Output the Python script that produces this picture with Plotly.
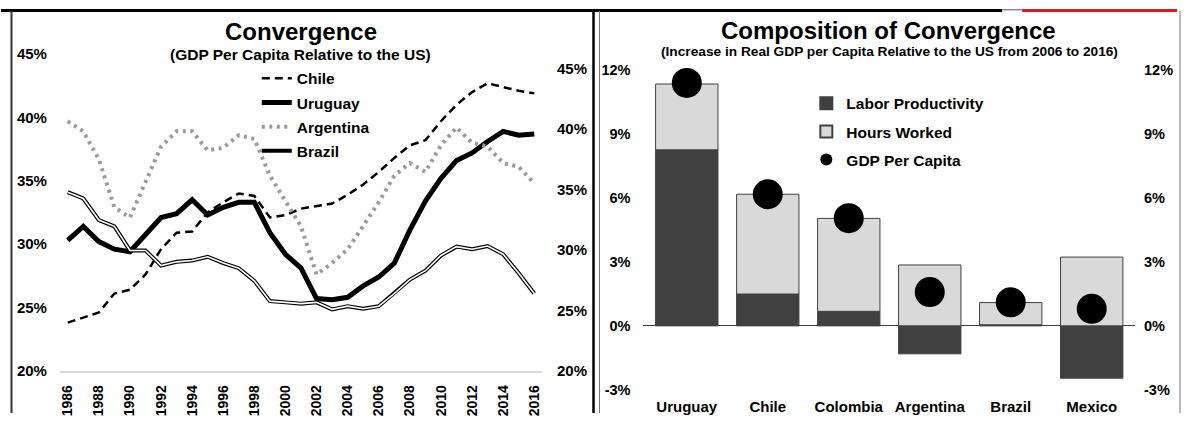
import plotly.graph_objects as go

W, H = 1188, 421

# ---------------- data ----------------
years = list(range(1986, 2017))
chile = [23.8, 24.2, 24.6, 26.1, 26.4, 27.6, 29.6, 30.9, 31.0, 32.5, 33.3, 34.0, 33.8,
         32.1, 32.3, 32.8, 33.0, 33.2, 33.9, 34.7, 35.7, 36.8, 37.8, 38.2, 39.7, 41.0,
         42.0, 42.7, 42.4, 42.1, 41.9]
uruguay = [30.3, 31.4, 30.2, 29.6, 29.4, 30.8, 32.1, 32.4, 33.5, 32.3, 32.9, 33.3, 33.3,
           30.9, 29.2, 28.1, 25.7, 25.6, 25.8, 26.7, 27.4, 28.5, 31.1, 33.4, 35.2, 36.6,
           37.2, 38.1, 38.9, 38.6, 38.7]
argentina = [39.7, 38.9, 36.7, 32.9, 32.1, 34.9, 37.7, 38.9, 38.9, 37.4, 37.6, 38.6, 38.3,
             35.4, 33.4, 31.4, 27.6, 28.5, 29.6, 31.4, 33.3, 35.4, 36.4, 35.7, 37.8, 39.2,
             38.0, 37.7, 36.4, 36.1, 34.8]
brazil = [34.1, 33.6, 31.9, 31.4, 29.5, 29.5, 28.3, 28.6, 28.7, 29.0, 28.5, 28.1, 27.1,
          25.5, 25.4, 25.3, 25.4, 24.85, 25.1, 24.9, 25.1, 26.1, 27.2, 27.9, 29.1, 29.8,
          29.6, 29.85, 29.2, 27.7, 26.1]

countries = ["Uruguay", "Chile", "Colombia", "Argentina", "Brazil", "Mexico"]
labor_productivity = [8.24, 1.49, 0.68, -1.31, 0.05, -2.45]
hours_worked = [3.08, 4.67, 4.35, 2.85, 1.04, 3.22]
gdp_per_capita = [11.37, 6.16, 5.04, 1.58, 1.10, 0.80]

left_ticks = [20, 25, 30, 35, 40, 45]
right_ticks = [-3, 0, 3, 6, 9, 12]

FONT = "Arial, Liberation Sans, sans-serif"
BOLD = dict(family=FONT, color="black", weight="bold")


def px_x(v):
    return v / W


def px_y(v):
    return 1 - v / H


fig = go.Figure()

# ---------------- left chart ----------------
fig.add_trace(go.Scatter(x=years, y=chile, name="Chile", mode="lines",
                         line=dict(color="black", width=2.5, dash="8px,5px"),
                         legend="legend", legendgroup="a"))
fig.add_trace(go.Scatter(x=years, y=uruguay, name="Uruguay", mode="lines",
                         line=dict(color="black", width=5),
                         legend="legend", legendgroup="b"))
fig.add_trace(go.Scatter(x=years, y=argentina, name="Argentina", mode="lines",
                         line=dict(color="#9a9a9a", width=4, dash="3px,4.5px"),
                         legend="legend", legendgroup="c"))
fig.add_trace(go.Scatter(x=years, y=brazil, name="Brazil", mode="lines",
                         line=dict(color="black", width=4),
                         legend="legend", legendgroup="d"))
fig.add_trace(go.Scatter(x=years, y=brazil, name="Brazil", mode="lines",
                         line=dict(color="white", width=1.6),
                         legend="legend", legendgroup="d", showlegend=False))
# carrier so the secondary (right-hand) axis is drawn
fig.add_trace(go.Scatter(x=years[:1], y=left_ticks[:1], yaxis="y2", mode="markers",
                         marker=dict(opacity=0), showlegend=False, hoverinfo="skip"))

# ---------------- right chart ----------------
fig.add_trace(go.Bar(x=countries, y=labor_productivity, name="Labor Productivity",
                     marker=dict(color="#404040", line=dict(color="#404040", width=1)),
                     width=0.77, xaxis="x2", yaxis="y3", legend="legend2", legendgroup="e"))
fig.add_trace(go.Bar(x=countries, y=hours_worked, name="Hours Worked",
                     marker=dict(color="#d9d9d9", line=dict(color="#404040", width=1)),
                     width=0.77, xaxis="x2", yaxis="y3", legend="legend2", legendgroup="f"))
fig.add_trace(go.Scatter(x=countries, y=gdp_per_capita, name="GDP Per Capita",
                         mode="markers", marker=dict(color="black", size=30),
                         cliponaxis=False, xaxis="x2", yaxis="y3", legend="legend2",
                         legendgroup="g"))
fig.add_trace(go.Scatter(x=countries[:1], y=right_ticks[:1], xaxis="x2", yaxis="y4",
                         mode="markers", marker=dict(opacity=0), showlegend=False,
                         hoverinfo="skip"))

axis_common = dict(showgrid=False, zeroline=False, ticks="", color="black")

fig.update_layout(
    width=W, height=H,
    margin=dict(l=0, r=0, t=0, b=0),
    paper_bgcolor="white", plot_bgcolor="rgba(0,0,0,0)",
    barmode="relative",
    font=dict(family=FONT, color="black"),
    xaxis=dict(domain=[px_x(59), px_x(541.5)], range=[1985.5, 2016.5],
               tickmode="array", tickvals=years[::2], ticktext=[str(y) for y in years[::2]],
               tickangle=-90, tickfont=dict(size=14, **BOLD), ticklabelstandoff=7,
               showline=True, linecolor="#d9d9d9", linewidth=1.5, anchor="y",
               **axis_common),
    yaxis=dict(domain=[px_y(377), px_y(47)], range=[20, 45],
               tickmode="array", tickvals=left_ticks, ticktext=[f"{t}%" for t in left_ticks],
               tickfont=dict(size=15, **BOLD), ticklabelstandoff=12, anchor="x",
               **axis_common),
    yaxis2=dict(overlaying="y", side="right", range=[20, 46.2], anchor="x",
                tickmode="array", tickvals=left_ticks, ticktext=[f"{t}%" for t in left_ticks],
                tickfont=dict(size=15, **BOLD), ticklabelstandoff=14,
                **axis_common),
    xaxis2=dict(domain=[px_x(643), px_x(1135)], anchor="y3",
                tickfont=dict(size=15, **BOLD), ticklabelstandoff=6,
                showline=False, **axis_common),
    yaxis3=dict(domain=[px_y(397), px_y(63)], range=[-3, 12], anchor="x2",
                tickmode="array", tickvals=right_ticks, ticktext=[f"{t}%" for t in right_ticks],
                tickfont=dict(size=14.5, **BOLD), ticklabelstandoff=12,
                showgrid=False, ticks="", zeroline=True, zerolinecolor="#404040",
                zerolinewidth=1),
    yaxis4=dict(overlaying="y3", side="right", range=[-3, 12], anchor="x2",
                tickmode="array", tickvals=right_ticks, ticktext=[f"{t}%" for t in right_ticks],
                tickfont=dict(size=14.5, **BOLD), ticklabelstandoff=8,
                **axis_common),
    legend=dict(x=px_x(256), y=px_y(55), xanchor="left", yanchor="top",
                font=dict(size=15.5, **BOLD), bgcolor="rgba(0,0,0,0)",
                traceorder="grouped", tracegroupgap=1, itemwidth=30),
    legend2=dict(x=px_x(806), y=px_y(81), xanchor="left", yanchor="top",
                 font=dict(size=15.5, **BOLD), bgcolor="rgba(0,0,0,0)",
                 traceorder="grouped", tracegroupgap=5, itemsizing="constant",
                 itemwidth=30),
    showlegend=True,
)

annotations = [
    dict(text="Convergence", x=px_x(300), y=px_y(23), font=dict(size=24, **BOLD)),
    dict(text="(GDP Per Capita Relative to the US)", x=px_x(300), y=px_y(47),
         font=dict(size=15.5, **BOLD)),
    dict(text="Composition of Convergence", x=px_x(888), y=px_y(22), font=dict(size=24, **BOLD)),
    dict(text="(Increase in Real GDP per Capita Relative to the US from 2006 to 2016)",
         x=px_x(889), y=px_y(44), font=dict(size=13.7, **BOLD)),
]
for a in annotations:
    a.update(xref="paper", yref="paper", showarrow=False, xanchor="center", yanchor="middle")
fig.update_layout(annotations=annotations)

# panel frames
shapes = [
    dict(type="rect", x0=0, x1=px_x(1002), y0=px_y(3), y1=1, fillcolor="black", line_width=0),
    dict(type="rect", x0=px_x(1002), x1=px_x(1022), y0=px_y(1.5), y1=1, fillcolor="#888888", line_width=0),
    dict(type="rect", x0=px_x(1022), x1=px_x(1177), y0=px_y(3), y1=1, fillcolor="#e8141c", line_width=0),
    dict(type="line", x0=px_x(10.5), x1=px_x(10.5), y0=0, y1=px_y(2), line=dict(color="#333333", width=2)),
    dict(type="line", x0=px_x(593), x1=px_x(593), y0=0, y1=1, line=dict(color="black", width=2.5)),
    dict(type="line", x0=px_x(599), x1=px_x(599), y0=0, y1=px_y(2), line=dict(color="#777777", width=1)),
    dict(type="line", x0=px_x(1180), x1=px_x(1180), y0=0, y1=px_y(2), line=dict(color="#777777", width=1)),
]
for s in shapes:
    s.update(xref="paper", yref="paper", layer="above")
fig.update_layout(shapes=shapes)

fig.write_html(
    "out.html",
    config={"displayModeBar": False},
    post_script="document.body.style.margin='0';document.body.style.overflow='hidden';",
)
